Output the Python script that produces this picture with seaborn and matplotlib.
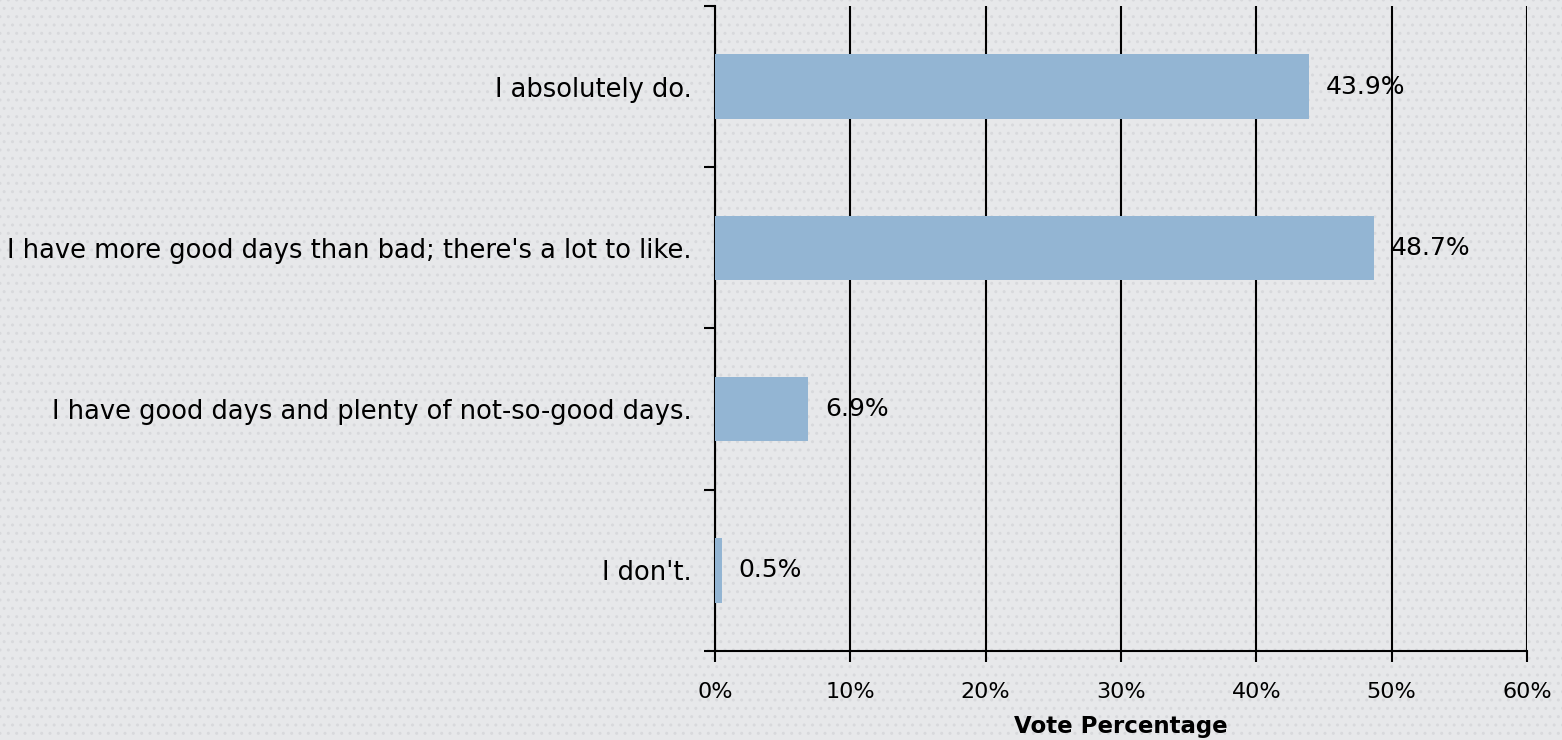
import numpy as np
import pandas as pd
import matplotlib
matplotlib.use("Agg")
import matplotlib.pyplot as plt
import seaborn as sns
from matplotlib.patches import Rectangle

# survey answers, top to bottom
answers = [
    "I absolutely do.",
    "I have more good days than bad; there's a lot to like.",
    "I have good days and plenty of not-so-good days.",
    "I don't.",
]
vote_pct = [43.9, 48.7, 6.9, 0.5]
x_ticks = [0, 10, 20, 30, 40, 50, 60]

df = pd.DataFrame({"answer": answers, "pct": vote_pct})

sns.set_style("white")
plt.rcParams["font.family"] = ["DejaVu Sans"]
plt.rcParams["text.color"] = "black"
plt.rcParams["xtick.color"] = "black"
plt.rcParams["ytick.color"] = "black"
plt.rcParams["axes.labelcolor"] = "black"

bg = "#e7e8ea"
fig = plt.figure(figsize=(15.62, 7.4), dpi=100)
fig.patch.set_facecolor(bg)
# dotted backdrop
fig.patches.append(Rectangle((0, 0), 1, 1, transform=fig.transFigure,
                             facecolor=bg, edgecolor="#d8d9dc", hatch="..",
                             linewidth=0, zorder=-10))

ax = fig.add_axes([0.4577, 0.1203, 0.5199, 0.8716])
ax.set_facecolor("none")

sns.barplot(data=df, x="pct", y="answer", orient="h", color="#93b5d3",
            saturation=1, width=0.4, edgecolor="none", linewidth=0,
            ax=ax, zorder=3)

ax.set_xlim(0, 60)
ax.set_ylim(3.5, -0.5)
ax.set_xticks(x_ticks)
ax.set_xticklabels([f"{t}%" for t in x_ticks], fontsize=16)
ax.grid(axis="x", color="black", linewidth=1.5, zorder=0)
ax.set_axisbelow(True)

# category tick marks between bands
ax.set_yticks(np.arange(len(answers)))
ax.set_yticklabels(answers, fontsize=18.5)
ax.set_yticks(np.arange(-0.5, len(answers)), minor=True)
ax.tick_params(axis="y", which="major", length=0, pad=17)
ax.tick_params(axis="y", which="minor", length=8, width=1.5, color="black", direction="out")
ax.tick_params(axis="x", length=8, width=1.5, color="black", direction="out", pad=14)
ax.xaxis.set_ticks_position("bottom")
ax.yaxis.set_ticks_position("left")

for s in ["top", "right"]:
    ax.spines[s].set_visible(False)
for s in ["left", "bottom"]:
    ax.spines[s].set_color("black")
    ax.spines[s].set_linewidth(1.5)

ax.set_ylabel("")
ax.set_xlabel("Vote Percentage", fontsize=16.5, fontweight="bold", labelpad=10)

for i, v in enumerate(vote_pct):
    ax.text(v + 1.25, i, f"{v}%", va="center", ha="left", fontsize=18, zorder=4)

fig.savefig("out.png", dpi=100, facecolor=bg)
